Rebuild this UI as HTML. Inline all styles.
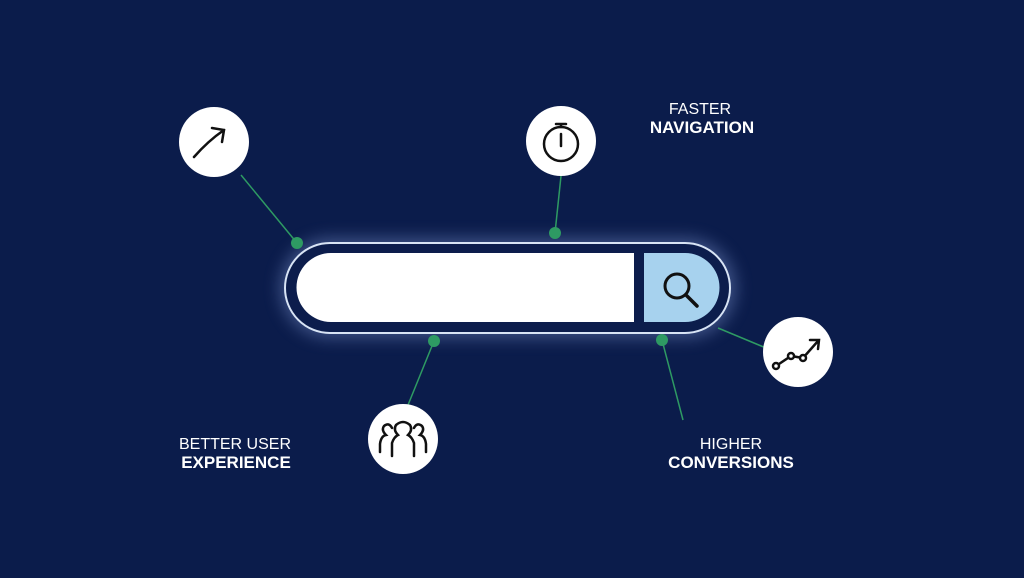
<!DOCTYPE html>
<html><head><style>
html,body{margin:0;padding:0;width:1024px;height:578px;overflow:hidden;background:#0b1c4b;}
svg{display:block}
text{font-family:"Liberation Sans",sans-serif;fill:#fff;text-anchor:middle;font-size:16px}
.b{font-weight:bold;font-size:17px}
</style></head><body>
<svg width="1024" height="578" viewBox="0 0 1024 578">
<defs>
<filter id="g" x="-20%" y="-50%" width="140%" height="200%"><feGaussianBlur stdDeviation="8"/></filter>
</defs>
<rect width="1024" height="578" fill="#0b1c4b"/>
<rect x="280" y="238" width="456" height="100" rx="50" fill="#6f86c0" opacity="0.5" filter="url(#g)"/>
<rect x="285" y="243" width="445" height="90" rx="45" fill="#0c1d4c" stroke="#d8e4f5" stroke-width="2"/>
<path d="M331 253 H634 V322 H331 A34.5 34.5 0 0 1 331 253 Z" fill="#fff"/>
<path d="M644 253 H685 A34.5 34.5 0 0 1 685 322 H644 Z" fill="#a7d2ee"/>
<circle cx="677" cy="286" r="12" fill="none" stroke="#111" stroke-width="3"/>
<line x1="686" y1="295" x2="697" y2="306" stroke="#111" stroke-width="3.5" stroke-linecap="round"/>
<g stroke="#2e9a63" stroke-width="1.5">
<line x1="241" y1="175" x2="297" y2="243"/>
<line x1="561" y1="176" x2="555" y2="233"/>
<line x1="434" y1="341" x2="408" y2="405"/>
<line x1="662" y1="340" x2="683" y2="420"/>
<line x1="718" y1="328" x2="766" y2="348"/>
</g>
<g fill="#2e9a63">
<circle cx="297" cy="243" r="6"/><circle cx="555" cy="233" r="6"/>
<circle cx="434" cy="341" r="6"/><circle cx="662" cy="340" r="6"/>
</g>
<g fill="#fff">
<circle cx="214" cy="142" r="35"/><circle cx="561" cy="141" r="35"/>
<circle cx="798" cy="352" r="35"/><circle cx="403" cy="439" r="35"/>
</g>
<g fill="none" stroke="#111" stroke-width="2.5" stroke-linecap="round">
<path d="M194 157 Q208 141 224 130 M212 128 L224 130 L222 142"/>
<circle cx="561" cy="144" r="17"/><path d="M556 124 H566 M561 124 V127 M561 134 V146"/>
<path d="M776 366 L791 356 L803 358 L818 341 M810 340 L819 340 L818 349"/>
<circle cx="776" cy="366" r="3" fill="#fff"/><circle cx="791" cy="356" r="3" fill="#fff"/><circle cx="803" cy="358" r="3" fill="#fff"/>
<path d="M380 452 V444 Q381 436 386 435 Q381 430 384 426 Q389 422 392 428"/>
<path d="M426 452 V444 Q425 436 420 435 Q425 430 422 426 Q417 422 414 428"/>
<path d="M392 456 V443 Q394 437 398 435 Q393 430 396 425 Q403 419 410 425 Q413 430 408 435 Q412 437 414 443 V456"/>
</g>
<text x="700" y="114">FASTER</text>
<text x="702" y="133" class="b">NAVIGATION</text>
<text x="235" y="449">BETTER USER</text>
<text x="236" y="468" class="b">EXPERIENCE</text>
<text x="731" y="449">HIGHER</text>
<text x="731" y="468" class="b">CONVERSIONS</text>
</svg>
</body></html>
